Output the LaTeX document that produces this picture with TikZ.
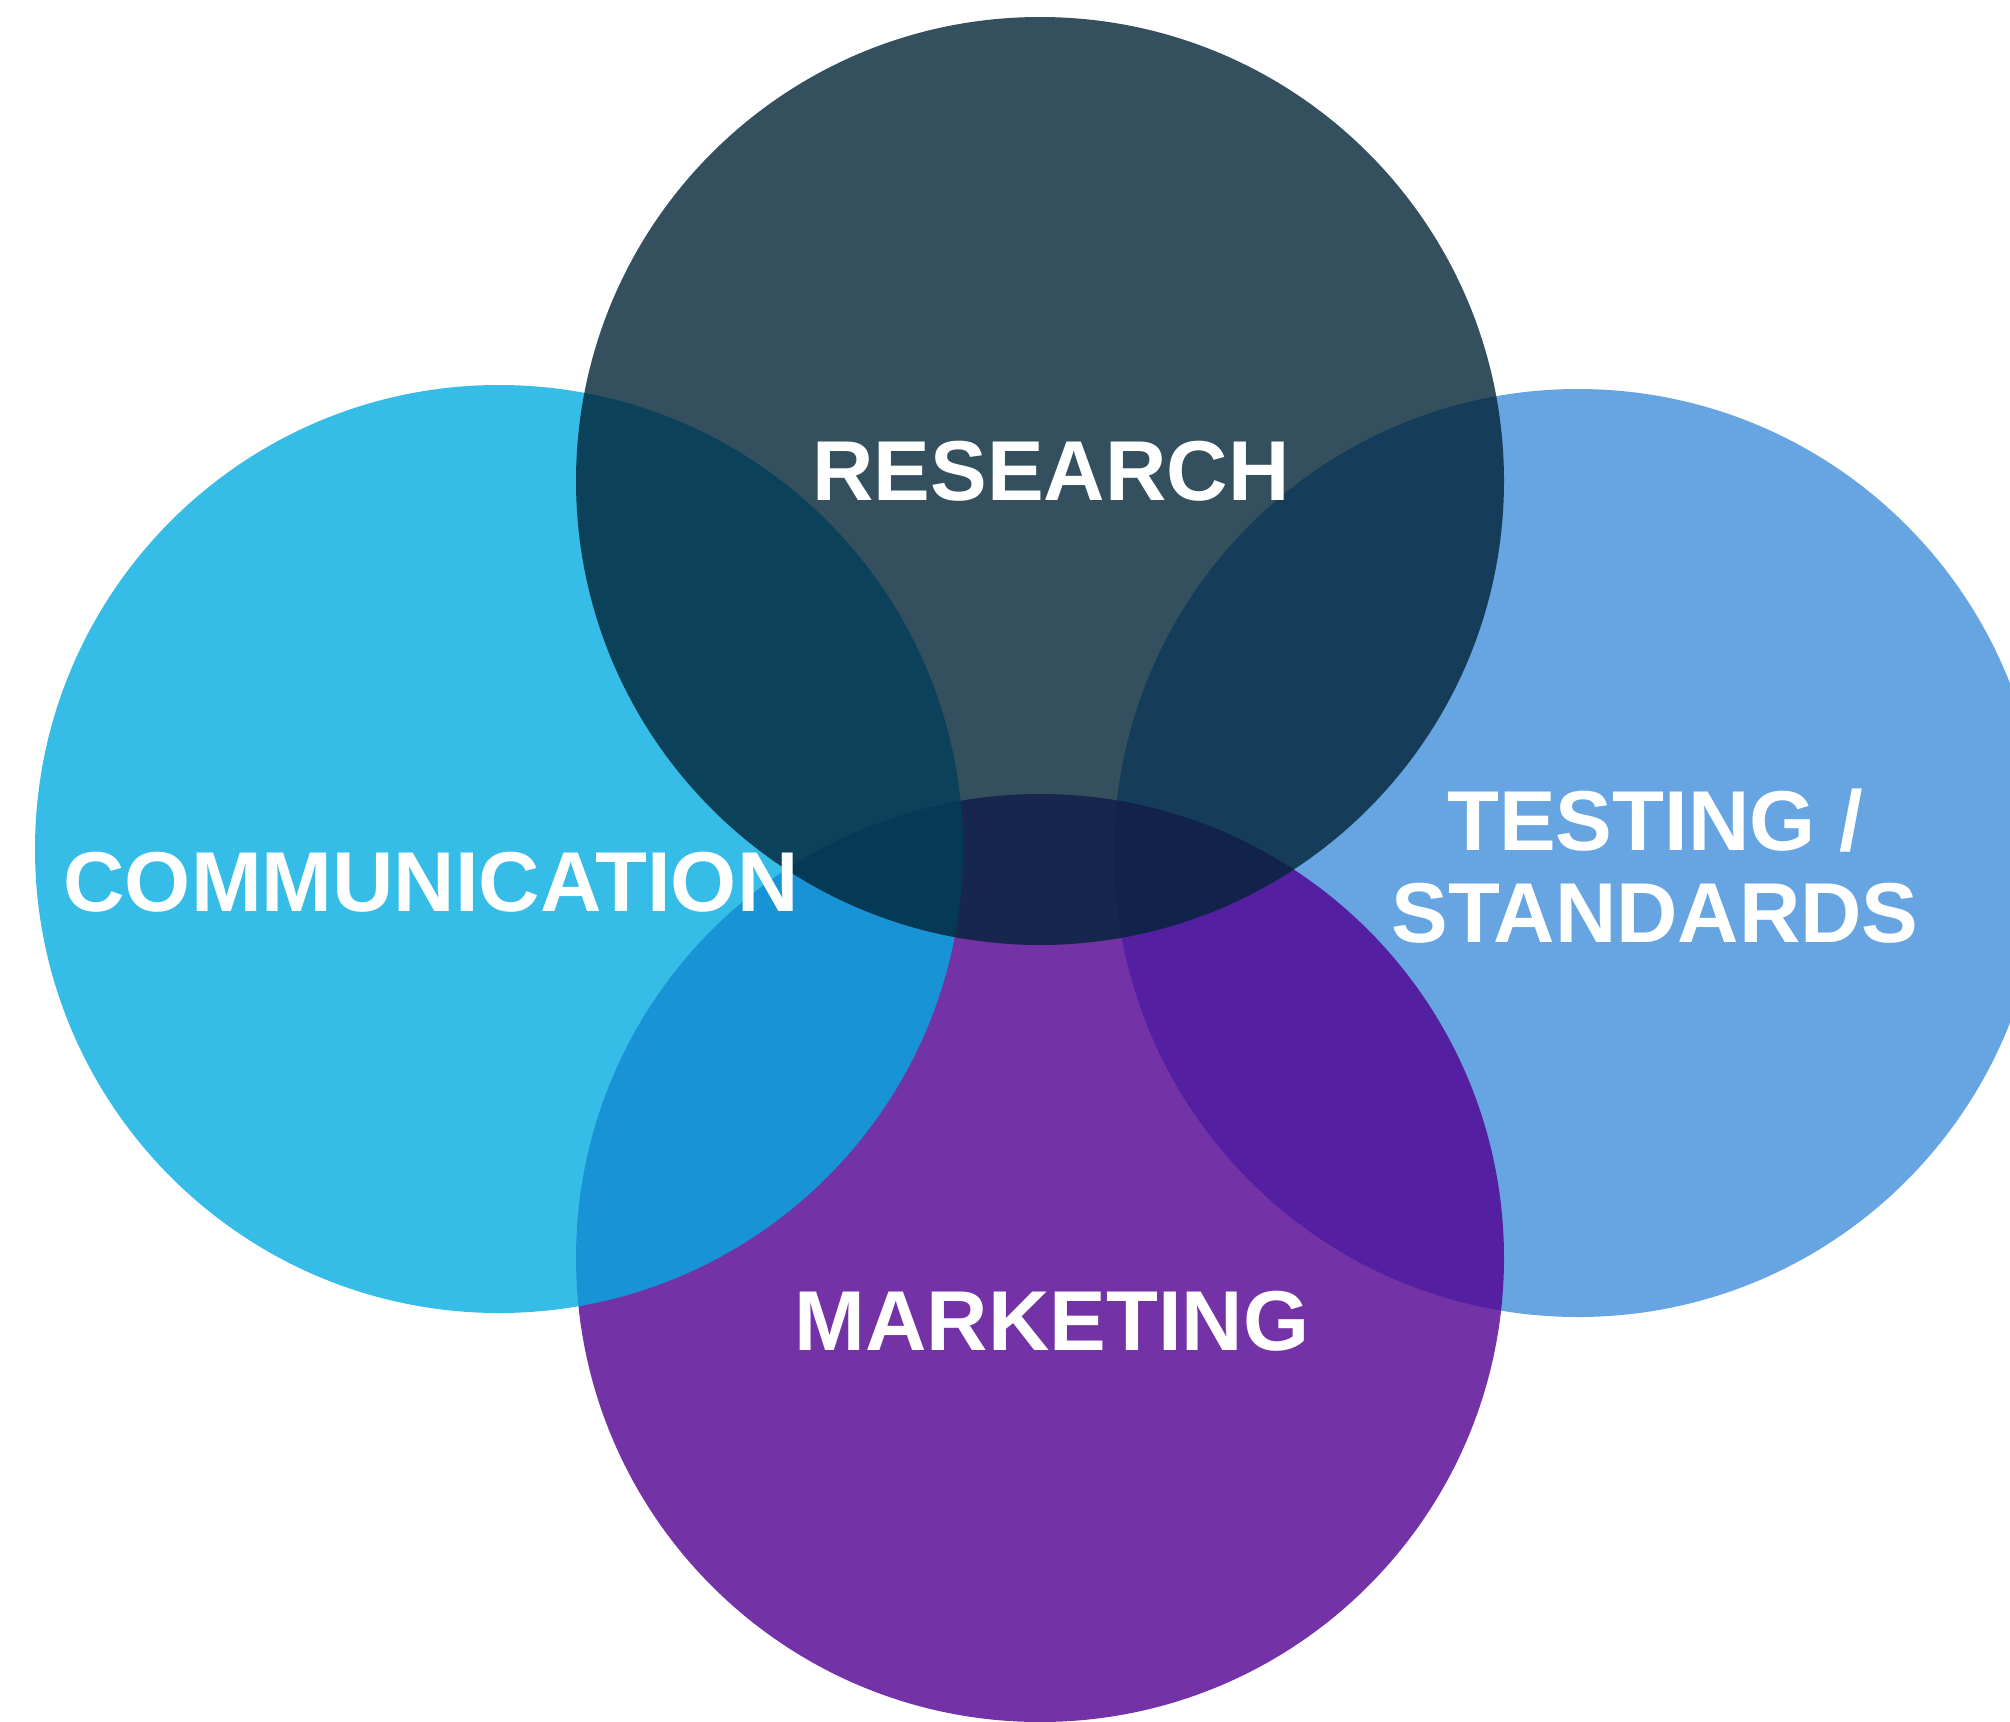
\documentclass[tikz,border=0pt]{standalone}
\usepackage{fontspec}
\setmainfont{Liberation Sans}
\begin{document}
\definecolor{resC}{RGB}{1,36,55}
\definecolor{comC}{RGB}{2,172,226}
\definecolor{mktC}{RGB}{80,0,145}
\definecolor{tstC}{RGB}{65,142,219}
\begin{tikzpicture}[x=1pt,y=-1pt,
  disc/.style={fill opacity=0.8,draw=none},
  lbl/.style={text=white,font=\bfseries\fontsize{85}{92}\selectfont,inner sep=0pt,anchor=base,align=center}]
\useasboundingbox (0,0) rectangle (2010,1721);
\begin{scope}
\clip (0,0) rectangle (2010,1721);
% four overlapping discs, bottom to top
\fill[disc,tstC] (1578,853) circle (464);
\fill[disc,mktC] (1040,1258) circle (464);
\fill[disc,comC] (499,849) circle (464);
\fill[disc,resC] (1040,481) circle (464);
\end{scope}
\node[lbl] (research) at (1051,500) {RESEARCH};
\node[lbl] (communication) at (431,911) {COMMUNICATION};
\node[lbl] (testing) at (1655,942) {TESTING /\\STANDARDS};
\node[lbl] (marketing) at (1052,1350) {MARKETING};
\end{tikzpicture}
\end{document}
